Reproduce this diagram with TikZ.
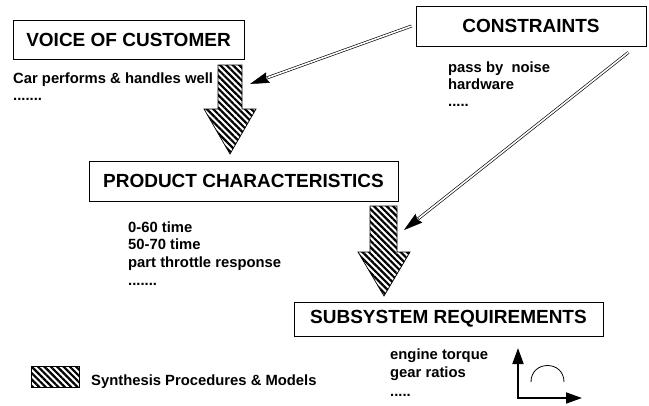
\documentclass[tikz,border=0pt]{standalone}
\usepackage{fontspec}
\setmainfont{Liberation Sans}
\usetikzlibrary{arrows.meta,patterns.meta,calc}

\begin{document}
\begin{tikzpicture}[x=1pt,y=-1pt,
  box/.style={draw, line width=0.8pt, inner sep=0pt,
    font=\bfseries\fontsize{19}{22}\selectfont},
  txt/.style={anchor=base west, inner sep=0pt,
    font=\bfseries\fontsize{14.8}{17}\selectfont},
  hatch/.style={pattern={Lines[angle=-45,distance=4.5pt,line width=2.2pt]},
    draw, line width=0.7pt},
  feed/.style={draw, double, line width=0.65pt, double distance=1.6pt},
  feedtip/.style={-{Stealth[length=19pt,width=11pt,inset=2pt]}, line width=0.4pt},
  axis/.style={line width=1.8pt,
    {Triangle[length=16pt,width=11pt]}-{Triangle[length=16pt,width=11pt]}},
]
\useasboundingbox (0,0) rectangle (649,405);

% the four stages
\node[box, minimum width=231pt, minimum height=39pt] (voc) at (128.5,39.5) {VOICE OF CUSTOMER};
\node[box, minimum width=230pt, minimum height=40pt] (con) at (531,26) {CONSTRAINTS};
\node[box, minimum width=309pt, minimum height=40pt] (pc) at (243.5,181) {PRODUCT CHARACTERISTICS};
\node[box, minimum width=309pt, minimum height=34pt] (sr) at (448.5,319) {SUBSYSTEM REQUIREMENTS};

% item lists
\node[txt] (voc1) at (13,83) {Car\ performs\ \&\ handles\ well};
\node[txt] (voc2) at (13,100) {.......};

\node[txt] (con1) at (448,72) {pass by\ \ noise};
\node[txt] (con2) at (448,89) {hardware};
\node[txt] (con3) at (448,106) {.....};

\node[txt] (pc1) at (128,232) {0-60 time};
\node[txt] (pc2) at (128,249.5) {50-70 time};
\node[txt] (pc3) at (128,267) {part throttle response};
\node[txt] (pc4) at (128,285) {.......};

\node[txt] (sr1) at (390,359) {engine torque};
\node[txt] (sr2) at (390,377) {gear ratios};
\node[txt] (sr3) at (390,396) {.....};

% synthesis steps (hatched block arrows)
\draw[hatch] (218,65) -- (242,65) -- (242,109) -- (256,109) -- (230,154)
  -- (204,109) -- (218,109) -- cycle;
\draw[hatch] (370,206) -- (397,206) -- (397,252) -- (410,252) -- (384,296)
  -- (358,252) -- (370,252) -- cycle;

% constraints feeding the synthesis steps
\coordinate (fa) at (250,84);
\coordinate (fb) at (404,230);
\coordinate (ca) at ([xshift=-4pt]con.west);
\coordinate (cb) at ($(con.south east)+(-18,6)$);
\draw[feed, shorten >=16pt] (ca) -- (fa);
\draw[feedtip] ($(fa)!19pt!(ca)$) -- (fa);
\draw[feed, shorten >=16pt] (cb) -- (fb);
\draw[feedtip] ($(fb)!19pt!(cb)$) -- (fb);

% small response sketch
\coordinate (o) at (518,398);
\coordinate (ya) at (518,348);
\coordinate (xa) at (582,398);
\draw[axis] (ya) -- (o) -- (xa);
\draw[line width=0.8pt] (531,382) .. controls (531,360) and (564,360) .. (564,382);

% legend
\draw[hatch] (31,366) rectangle (79,387);
\node[txt] (leg) at (91,385) {Synthesis Procedures \& Models};
\end{tikzpicture}
\end{document}
